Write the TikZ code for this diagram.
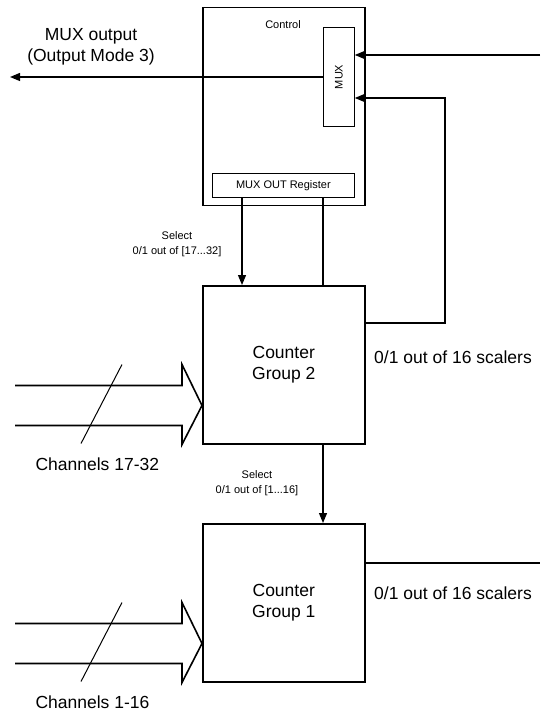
\documentclass[tikz,border=0pt]{standalone}
\usepackage{fontspec}
\setmainfont{Liberation Sans}
\usetikzlibrary{arrows.meta,calc}
\tikzset{
  blk/.style={draw,line width=1.5pt,inner sep=0pt,anchor=north west,align=center},
  sub/.style={draw,line width=0.8pt,inner sep=0pt,anchor=north west},
  sig/.style={line width=1.2pt},
  arr/.style={sig,-{Triangle[length=10pt,width=8pt]}},
  bus/.style={line width=1.6pt,line join=miter},
  big/.style={font={\fontsize{17.5pt}{21pt}\selectfont}},
  small/.style={font={\fontsize{11pt}{13pt}\selectfont}},
  sel/.style={font={\fontsize{11pt}{14.5pt}\selectfont},align=center}
}

\begin{document}
\begin{tikzpicture}[x=1pt,y=-1pt]
\useasboundingbox (0,0) rectangle (540,711);
% control unit
\node[blk,minimum width=162pt,minimum height=198pt] (ctrl) at (202,7) {};
\node[small] (ctrltxt) at (283,25) {Control};
\node[sub,minimum width=31pt,minimum height=99pt] (mux) at (323,27) {};
\node[small,rotate=90] (muxtxt) at (mux.center) {MUX};
\node[sub,small,minimum width=142pt,minimum height=24pt] (reg) at (212,173) {MUX OUT Register};
% counter groups
\node[blk,big,minimum width=162pt,minimum height=158pt] (cg2) at (202,285) {Counter\\Group 2};
\node[blk,big,minimum width=162pt,minimum height=158pt] (cg1) at (202,523) {Counter\\Group 1};
% free ends
\coordinate (muxout) at (10,77);
\coordinate (in1) at (540,55);
\coordinate (fb) at (445,323);
\coordinate (fbtop) at (445,98);
\coordinate (out1) at (540,563);
\coordinate (selA) at (242,0);
% mux output
\draw[arr] (mux.west |- muxout) -- (muxout);
\node[big,align=center] (muxlbl) at (91,47) {MUX output\\(Output Mode 3)};
% mux inputs
\draw[arr] (in1) -- (in1 -| mux.east);
\draw[arr] (cg2.east |- fb) -- (fb) -- (fbtop) -- (fbtop -| mux.east);
% select lines
\draw[arr] (reg.south -| selA) -- (cg2.north -| selA);
\draw[sig] (reg.south -| mux.west) -- (cg2.north -| mux.west);
\node[sel] (sel2) at (177,244) {Select\\0/1 out of [17...32]};
\draw[arr] (cg2.south -| mux.west) -- (cg1.north -| mux.west);
\node[sel] (sel1) at (257,483) {Select\\0/1 out of [1...16]};
% outputs
\draw[sig] (cg1.east |- out1) -- (out1);
\node[big] (sc2) at (453,357) {0/1 out of 16 scalers};
\node[big] (sc1) at (453,593) {0/1 out of 16 scalers};
% channel buses
\foreach \g/\lab in {cg2/Channels 17-32, cg1/Channels 1-16}{
  \coordinate (tip) at ($(\g.south west)+(0,-39)$);
  \draw[bus] ($(tip)+(-187,-20)$) -- ++(167,0) -- ++(0,-21) -- (tip)
    -- ++(-20,39) -- ++(0,-19) -- ++(-167,0);
  \draw[line width=1pt] ($(tip)+(-80,-41)$) -- ($(tip)+(-121,38)$);
  \node[big,anchor=west] at ($(tip)+(-170,59)$) {\lab};
}
\end{tikzpicture}
\end{document}
